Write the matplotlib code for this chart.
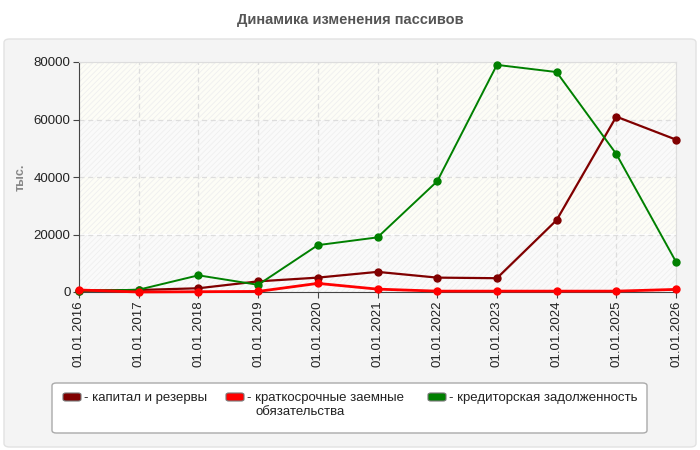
import matplotlib.pyplot as plt
from matplotlib.patches import FancyBboxPatch, Rectangle

# data (thousand)
dates = ["01.01.2016", "01.01.2017", "01.01.2018", "01.01.2019", "01.01.2020", "01.01.2021",
         "01.01.2022", "01.01.2023", "01.01.2024", "01.01.2025", "01.01.2026"]
capital = [500, 700, 1300, 3700, 5000, 7000, 5000, 4800, 25000, 61000, 53000]
short_loans = [700, 0, 100, 200, 3000, 1000, 300, 300, 300, 300, 900]
payables = [300, 800, 5800, 2500, 16300, 19000, 38500, 79000, 76500, 48000, 10500]
y_ticks = [0, 20000, 40000, 60000, 80000]
series_names = ["капитал и резервы", "краткосрочные заемные\nобязательства", "кредиторская задолженность"]
series_colors = ["#800000", "#ff0000", "#008000"]

plt.rcParams['font.family'] = ['Liberation Sans', 'DejaVu Sans']

W, H = 700, 450
fig = plt.figure(figsize=(7, 4.5), dpi=100)
fig.patch.set_facecolor("white")


def fx(px):
    return px / W


def fy(py):
    return 1 - py / H


# grey panel behind the chart
panel = FancyBboxPatch((fx(4), fy(447)), fx(692), 408 / H, boxstyle="round,pad=0,rounding_size=0.008",
                       transform=fig.transFigure, facecolor="#f4f4f4", edgecolor="#e2e2e2", lw=1, zorder=-5)
fig.patches.append(panel)
fig.text(0.5, fy(20), "Динамика изменения пассивов", ha="center", va="center",
         fontsize=10.5, fontweight="bold", color="#555555")

ax = fig.add_axes([fx(79), fy(292), fx(597), 230 / H])
ax.set_zorder(2)
x = list(range(len(dates)))

# alternating faint hatched bands
ax.set_xlim(0, len(dates) - 1)
ax.set_ylim(0, 80000)
plt.rcParams['hatch.linewidth'] = 0.6
for i in range(len(y_ticks) - 1):
    face = "#fafafa" if i % 2 == 0 else "#fdfdf6"
    ax.add_patch(Rectangle((0, y_ticks[i]), len(dates) - 1, y_ticks[i + 1] - y_ticks[i],
                           facecolor=face, edgecolor="#efefef", hatch="//////", lw=0, zorder=0))
ax.set_facecolor("white")

ax.grid(True, color="#dddddd", linestyle=(0, (4, 3)), lw=0.9, zorder=1)
ax.set_axisbelow(True)

ax.plot(x, capital, color=series_colors[0], lw=1.6, marker="o", ms=5, zorder=3, clip_on=False)
ax.plot(x, payables, color=series_colors[2], lw=1.4, marker="o", ms=5, zorder=4, clip_on=False)
ax.plot(x, short_loans, color=series_colors[1], lw=2, marker="o", ms=5, zorder=5, clip_on=False)

ax.set_xticks(x)
ax.set_xticklabels(dates, rotation=90, fontsize=9.5, color="#222222")
ax.set_yticks(y_ticks)
ax.set_yticklabels([str(v) for v in y_ticks], fontsize=9.5, color="#222222")
ax.tick_params(length=4, color="#444444", pad=2)
ax.set_ylabel("тыс.", fontsize=9, fontweight="bold", color="#888888", labelpad=5)

for side in ["top", "right"]:
    ax.spines[side].set_color("#dddddd")
for side in ["left", "bottom"]:
    ax.spines[side].set_color("#444444")

# legend box, drawn by hand
box = FancyBboxPatch((fx(52), fy(433)), fx(595), 50 / H, boxstyle="round,pad=0,rounding_size=0.006",
                     transform=fig.transFigure, facecolor="white", edgecolor="#aaaaaa", lw=1, zorder=-4)
fig.patches.append(box)
legend_x = [63, 226, 428]
for lx, name, col in zip(legend_x, series_names, series_colors):
    fig.patches.append(FancyBboxPatch((fx(lx), fy(401)), fx(18), 8 / H,
                                      boxstyle="round,pad=0,rounding_size=0.004",
                                      transform=fig.transFigure, facecolor=col,
                                      edgecolor="#777777", lw=0.8, zorder=-3))
    lines = name.split("\n")
    fig.text(fx(lx + 21), fy(398), "- " + lines[0], ha="left", va="center", fontsize=9.5, color="#222222")
    if len(lines) > 1:
        fig.text(fx(lx + 30), fy(412), lines[1], ha="left", va="center", fontsize=9.5, color="#222222")

fig.savefig("out.png", dpi=100)
